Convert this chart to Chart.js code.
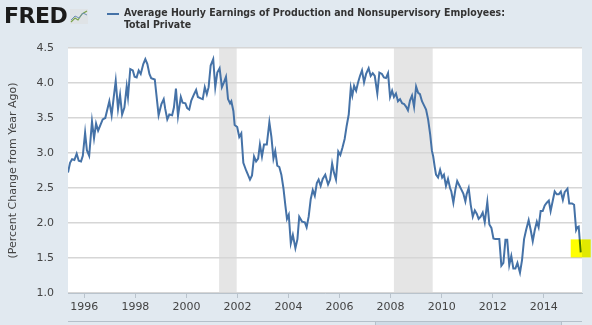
<!DOCTYPE html>
<html><head><meta charset="utf-8">
<script src="https://cdn.jsdelivr.net/npm/chart.js@4/dist/chart.umd.min.js"></script>
<style>
html,body{margin:0;padding:0;background:#e1e9f0;width:592px;height:325px;overflow:hidden;}
#wrap{position:relative;width:592px;height:325px;}
#c{position:absolute;left:0;top:0;}
#logo{position:absolute;left:4px;top:3px;font:bold 22px "DejaVu Sans",sans-serif;color:#1b1b1b;letter-spacing:-0.5px;line-height:26px;}
#icon{position:absolute;left:70px;top:9px;}
#legline{position:absolute;left:107px;top:13px;width:12px;height:2px;background:#4572a7;}
#title{position:absolute;left:124px;top:7px;font:bold 11px "DejaVu Sans Condensed","Liberation Sans",sans-serif;color:#333;line-height:12px;white-space:nowrap;transform-origin:0 0;}
#slider{position:absolute;left:68px;top:321px;width:514px;height:4px;border-top:1px solid #b5c0ca;}
#sliderbox{position:absolute;left:375px;top:322px;width:185px;height:3px;background:#cfdbe6;border-left:1px solid #b5c0ca;border-right:1px solid #b5c0ca;}
</style></head>
<body><div id="wrap">
<canvas id="c" width="592" height="325"></canvas>
<div id="logo">FRED</div>
<svg id="icon" width="18" height="15" viewBox="0 0 18 15">
<rect x="0" y="0" width="18" height="15" fill="#dfe3e6"/>
<polyline points="1,13 5,9 8,11 12,5 17,2" fill="none" stroke="#7aa34a" stroke-width="1.2"/>
<polyline points="1,11 5,7 9,9 13,4 17,6" fill="none" stroke="#6f8fb5" stroke-width="1"/>
</svg>
<div id="legline"></div>
<div id="title"><div id="t1">Average Hourly Earnings of Production and Nonsupervisory Employees:</div><div>Total Private</div></div>
<div id="slider"></div><div id="sliderbox"></div>
</div>
<script>
const seriesName = 'Average Hourly Earnings of Production and Nonsupervisory Employees: Total Private';
const axisTitle = '(Percent Change from Year Ago)';
const dates = [1995.36,1995.44,1995.52,1995.61,1995.70,1995.78,1995.87,1995.94,1996.03,1996.10,1996.19,1996.30,1996.38,1996.46,1996.54,1996.64,1996.72,1996.82,1996.92,1996.98,1997.07,1997.15,1997.23,1997.32,1997.40,1997.48,1997.57,1997.66,1997.71,1997.80,1997.90,1997.97,1998.05,1998.13,1998.21,1998.31,1998.39,1998.47,1998.55,1998.62,1998.76,1998.91,1999.02,1999.11,1999.17,1999.25,1999.33,1999.44,1999.51,1999.59,1999.67,1999.78,1999.85,1999.96,2000.03,2000.11,2000.19,2000.30,2000.38,2000.45,2000.56,2000.64,2000.72,2000.80,2000.87,2000.95,2001.05,2001.13,2001.21,2001.30,2001.39,2001.47,2001.55,2001.63,2001.71,2001.76,2001.84,2001.89,2001.99,2002.07,2002.15,2002.23,2002.34,2002.41,2002.49,2002.57,2002.65,2002.73,2002.81,2002.88,2002.96,2003.04,2003.15,2003.25,2003.33,2003.41,2003.48,2003.56,2003.64,2003.72,2003.80,2003.88,2003.94,2004.01,2004.09,2004.17,2004.27,2004.35,2004.42,2004.53,2004.64,2004.71,2004.79,2004.87,2004.95,2005.03,2005.11,2005.18,2005.26,2005.34,2005.44,2005.55,2005.63,2005.71,2005.78,2005.86,2005.95,2006.03,2006.11,2006.20,2006.28,2006.36,2006.44,2006.50,2006.57,2006.65,2006.72,2006.80,2006.88,2006.96,2007.04,2007.14,2007.22,2007.30,2007.38,2007.48,2007.56,2007.66,2007.74,2007.82,2007.90,2007.98,2008.06,2008.13,2008.21,2008.29,2008.37,2008.45,2008.53,2008.61,2008.68,2008.76,2008.84,2008.92,2009.00,2009.08,2009.15,2009.23,2009.31,2009.39,2009.47,2009.55,2009.62,2009.67,2009.73,2009.78,2009.86,2009.94,2010.02,2010.09,2010.17,2010.25,2010.33,2010.38,2010.46,2010.54,2010.61,2010.69,2010.77,2010.85,2010.93,2010.98,2011.06,2011.14,2011.22,2011.30,2011.38,2011.45,2011.53,2011.61,2011.69,2011.79,2011.87,2011.95,2012.03,2012.10,2012.26,2012.34,2012.42,2012.50,2012.57,2012.65,2012.73,2012.81,2012.89,2012.97,2013.07,2013.15,2013.23,2013.31,2013.41,2013.49,2013.57,2013.65,2013.73,2013.80,2013.88,2013.96,2014.04,2014.12,2014.20,2014.27,2014.35,2014.43,2014.51,2014.59,2014.67,2014.75,2014.82,2014.93,2015.00,2015.11,2015.19,2015.27,2015.32,2015.37,2015.45];
const values = [2.72,2.86,2.91,2.90,2.99,2.89,2.88,2.96,3.29,3.04,2.96,3.45,3.21,3.42,3.32,3.41,3.48,3.50,3.65,3.74,3.54,3.79,4.03,3.63,3.83,3.55,3.65,3.95,3.80,4.20,4.18,4.09,4.08,4.18,4.13,4.27,4.34,4.27,4.13,4.07,4.05,3.54,3.70,3.77,3.63,3.48,3.55,3.54,3.65,3.92,3.53,3.80,3.72,3.71,3.64,3.62,3.75,3.84,3.90,3.80,3.78,3.77,3.94,3.84,3.94,4.25,4.34,3.94,4.15,4.21,3.94,4.01,4.09,3.77,3.71,3.74,3.60,3.40,3.37,3.23,3.28,2.86,2.75,2.69,2.62,2.68,2.95,2.88,2.92,3.12,2.95,3.12,3.12,3.44,3.23,2.92,3.03,2.82,2.80,2.69,2.50,2.24,2.06,2.12,1.71,1.83,1.64,1.77,2.09,2.02,2.01,1.94,2.09,2.34,2.47,2.39,2.57,2.62,2.53,2.63,2.69,2.55,2.62,2.85,2.72,2.62,3.02,2.97,3.07,3.20,3.39,3.55,3.93,3.82,3.96,3.89,4.00,4.10,4.18,4.01,4.13,4.21,4.10,4.14,4.10,3.85,4.15,4.13,4.08,4.07,4.14,3.80,3.89,3.80,3.85,3.74,3.77,3.71,3.70,3.66,3.61,3.75,3.82,3.66,3.95,3.86,3.84,3.74,3.68,3.62,3.48,3.27,3.03,2.95,2.80,2.69,2.65,2.76,2.65,2.69,2.53,2.63,2.50,2.45,2.29,2.48,2.60,2.54,2.48,2.42,2.31,2.41,2.50,2.26,2.09,2.18,2.13,2.06,2.09,2.15,2.01,2.30,1.98,1.93,1.78,1.77,1.77,1.39,1.43,1.76,1.76,1.40,1.53,1.35,1.35,1.43,1.29,1.47,1.77,1.90,2.04,1.90,1.74,1.90,2.02,1.94,2.17,2.17,2.25,2.29,2.32,2.17,2.31,2.45,2.41,2.41,2.45,2.33,2.44,2.49,2.28,2.28,2.26,1.90,1.94,1.95,1.58];
const tickYears = [1996,1998,2000,2002,2004,2006,2008,2010,2012,2014];
const yTicks = [1.0,1.5,2.0,2.5,3.0,3.5,4.0,4.5];
const recessionStart = [2001.28, 2008.13];
const recessionEnd = [2001.97, 2009.65];
const xRange = [1995.36, 2015.50];
const yRange = [1.0, 4.5];

// fit header title width
(function(){
  const t1 = document.getElementById('t1');
  const w = t1.getBoundingClientRect().width;
  document.getElementById('title').style.transform = 'scaleX(' + (381 / w) + ')';
})();

const bgPlugin = {
  id: 'bg',
  beforeDraw(chart) {
    const {ctx, chartArea: a, scales: {x}} = chart;
    ctx.save();
    ctx.fillStyle = '#e1e9f0';
    ctx.fillRect(0, 0, chart.width, chart.height);
    ctx.fillStyle = '#ffffff';
    ctx.fillRect(a.left, a.top, a.right - a.left, a.bottom - a.top);
    ctx.fillStyle = '#e5e5e5';
    recessionStart.forEach((s, i) => {
      const x0 = x.getPixelForValue(s), x1 = x.getPixelForValue(recessionEnd[i]);
      ctx.fillRect(x0, a.top, x1 - x0, a.bottom - a.top);
    });
    ctx.restore();
  }
};
const highlightPlugin = {
  id: 'hl',
  afterDatasetsDraw(chart) {
    const {ctx, scales: {x, y}} = chart;
    const px = x.getPixelForValue(dates[dates.length - 1]);
    const py = y.getPixelForValue(values[values.length - 1]);
    ctx.save();
    ctx.globalCompositeOperation = 'multiply';
    ctx.fillStyle = '#ffff00';
    ctx.fillRect(px - 10, py - 13, 20, 18);
    ctx.restore();
  }
};

const font11 = {family: 'DejaVu Sans', size: 11};
new Chart(document.getElementById('c'), {
  type: 'line',
  data: {datasets: [{
    label: seriesName,
    data: dates.map((d, i) => ({x: d, y: values[i]})),
    borderColor: '#4572a7', borderWidth: 2, pointRadius: 0, tension: 0, fill: false
  }]},
  options: {
    animation: false, responsive: false, devicePixelRatio: 1,
    layout: {padding: {left: 0, right: 10, top: 48, bottom: 0}},
    plugins: {legend: {display: false}, tooltip: {enabled: false}},
    scales: {
      x: {
        type: 'linear', min: xRange[0], max: xRange[1],
        afterBuildTicks: s => { s.ticks = tickYears.map(v => ({value: v})); },
        afterFit: s => { s.height = 32; },
        grid: {drawOnChartArea: false, drawTicks: true, tickLength: 5, color: '#b9c3cc', lineWidth: 1},
        border: {display: true, color: '#b9c3cc', width: 1},
        ticks: {font: font11, color: '#444', padding: 3, maxRotation: 0, autoSkip: false, callback: v => String(v)}
      },
      y: {
        min: yRange[0], max: yRange[1],
        afterBuildTicks: s => { s.ticks = yTicks.map(v => ({value: v})); },
        afterFit: s => { s.width = 68; },
        grid: {color: '#d6d6d6', lineWidth: 1.5, drawTicks: false},
        border: {display: false},
        ticks: {font: font11, color: '#444', padding: 14, callback: v => v.toFixed(1)},
        title: {display: true, text: axisTitle, font: font11, color: '#444', padding: {top: 7, bottom: 0}}
      }
    }
  },
  plugins: [bgPlugin, highlightPlugin]
});
</script>
</body></html>
